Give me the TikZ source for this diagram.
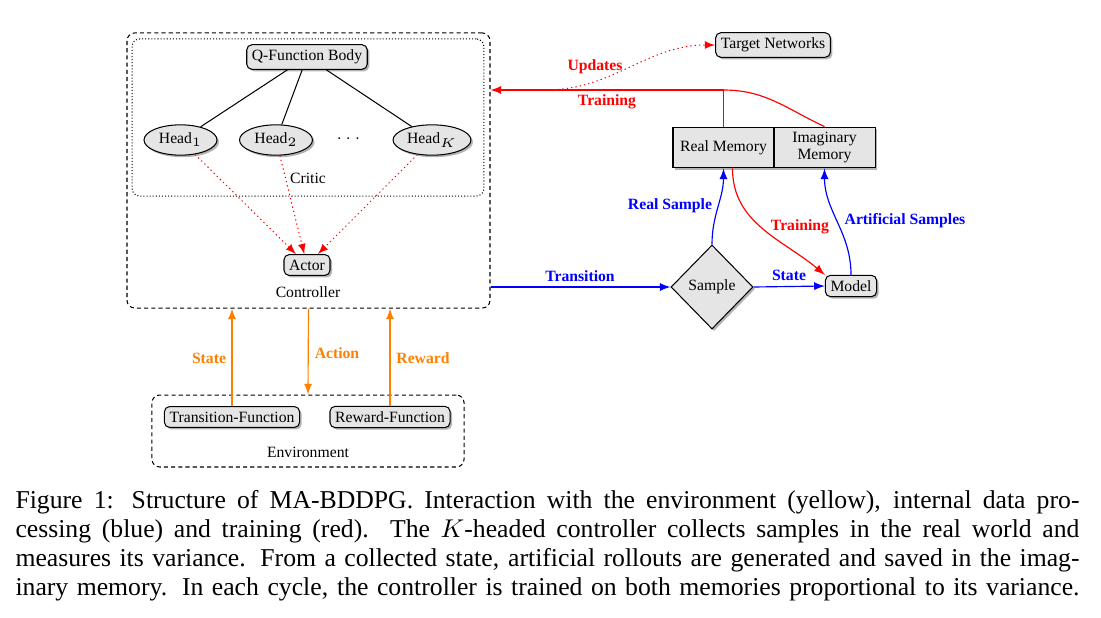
\documentclass[tikz,border=0pt]{standalone}
\usepackage{fontspec}
\setmainfont{Liberation Serif}
\usepackage{amsmath}
\usepackage{amssymb}
\usetikzlibrary{shapes.geometric,shadows}

\begin{document}
\begin{tikzpicture}[x=0.389pt, y=-0.389pt, >=latex,
	font=\fontsize{6.1}{7}\selectfont,
	shade/.style={drop shadow={opacity=0.6, shadow xshift=0.8pt, shadow yshift=-0.8pt}},
	box/.style={draw, rectangle, rounded corners=2pt, fill=gray!20, inner sep=2pt, shade},
	head/.style={draw, ellipse, fill=gray!20, minimum width=28.4pt, minimum height=11.8pt, inner sep=0pt, shade},
	mem/.style={draw, rectangle, fill=gray!20, minimum width=39.3pt, minimum height=15.9pt, inner sep=1pt, align=center, shade},
	group/.style={draw, rectangle, rounded corners=3pt, dash pattern=on 1.6pt off 1.2pt},
	lbl/.style={font=\fontsize{6.1}{7}\selectfont\bfseries, inner sep=0pt},
	conn/.style={->, line width=0.45pt}]
	\useasboundingbox (0, 0) rectangle (1101, 618);

	% controller
	\node[group, minimum width=141.2pt, minimum height=107pt] (ctrl)at(308.5, 170.5) {};
	\node[draw, rectangle, rounded corners=3pt, dash pattern=on 0.4pt off 0.8pt, minimum width=136.9pt, minimum height=61.1pt] (critic)at(308, 117.5) {};
	\node[box] (Q)at(307, 57) {Q-Function Body};
	\node[head] (H1)at(180.5, 140) {Head$_1$};
	\node[head] (H2)at(276, 140) {Head$_2$};
	\node (dots)at(350, 139) {$\cdots$};
	\node[head, minimum width=30.3pt] (HK)at(432, 140) {Head$_K$};
	\node (criticlbl)at(308, 178) {Critic};
	\node[box] (actor)at(307, 265) {Actor};
	\node (ctrllbl)at(308, 292) {Controller};
	\draw (Q) -- (H1);
	\draw (Q) -- (H2);
	\draw (Q) -- (HK);
	\draw[->, red, dash pattern=on 0.5pt off 1.2pt] (H1) -- (actor);
	\draw[->, red, dash pattern=on 0.5pt off 1.2pt] (H2) -- (actor);
	\draw[->, red, dash pattern=on 0.5pt off 1.2pt] (HK) -- (actor);

	% environment
	\node[group, minimum width=121.4pt, minimum height=28pt] (env)at(308, 431) {};
	\node[box] (TF)at(232, 417) {Transition-Function};
	\node[box] (RF)at(390, 417) {Reward-Function};
	\node (envlbl)at(308, 452) {Environment};
	\draw[conn, orange] (TF.north) -- (TF.north |- ctrl.south);
	\draw[conn, orange] (ctrl.south) -- (env.north);
	\draw[conn, orange] (RF.north) -- (RF.north |- ctrl.south);
	\node[lbl, orange] (lstate)at(209, 358) {State};
	\node[lbl, orange] (laction)at(337, 353) {Action};
	\node[lbl, orange] (lreward)at(423, 358) {Reward};

	% memories and model
	\node[box] (target)at(773, 45) {Target Networks};
	\node[mem] (real)at(723.5, 147.5) {Real Memory};
	\node[mem] (imag)at(824.5, 147.5) {Imaginary\\Memory};
	\node[draw, diamond, aspect=1, fill=gray!20, minimum width=31.9pt, minimum height=32.7pt, inner sep=0pt, shade] (sample)at(712, 287) {Sample};
	\node[box] (model)at(851, 286) {Model};
	\coordinate (tj)at(723.5, 90);
	\coordinate (upd)at(545, 90);

	\draw[conn, red] (real.north) -- (tj) -- (tj -| ctrl.east);
	\draw[line width=0.45pt, red] (imag.north) to[out=155, in=0] (tj);
	\draw[->, red, dash pattern=on 0.5pt off 1.2pt] (upd) to[out=0, in=180] (target.west);
	\node[lbl, red] (lupd)at(595, 67) {Updates};
	\node[lbl, red] (ltrain)at(607, 102) {Training};

	\draw[conn, blue] (sample.west -| ctrl.east) -- (sample.west);
	\draw[conn, blue] (sample.east) -- (model.west);
	\draw[conn, blue] (sample.north) to[out=90, in=-90] (real.south);
	\draw[conn, red] ([xshift=3.5pt]real.south) to[out=-90, in=140] (model.north west);
	\draw[conn, blue] (model.north) to[out=90, in=-90] (imag.south);
	\node[lbl, blue] (ltrans)at(580, 276) {Transition};
	\node[lbl, blue] (lsstate)at(789, 275) {State};
	\node[lbl, blue] (lreal)at(670, 206) {Real Sample};
	\node[lbl, red] (ltrain2)at(800, 227) {Training};
	\node[lbl, blue] (lart)at(905, 221) {Artificial Samples};

	% caption
	\node[anchor=north west, inner sep=0pt, font=\fontsize{10}{11.3}\selectfont] (caption)at(15, 490) {\parbox[t]{413.9pt}{\parfillskip=0pt Figure 1: Structure of MA-BDDPG. Interaction with the environment (yellow), internal data pro-\linebreak cessing (blue) and training (red). The $K$-headed controller collects samples in the real world and\linebreak measures its variance. From a collected state, artificial rollouts are generated and saved in the imag-\linebreak inary memory. In each cycle, the controller is trained on both memories proportional to its variance.}};
\end{tikzpicture}
\end{document}
